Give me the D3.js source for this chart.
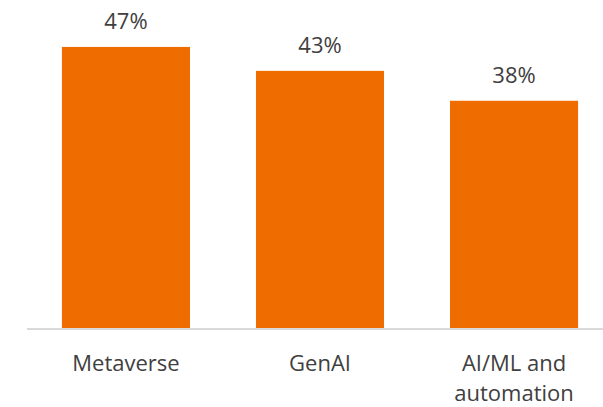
<!DOCTYPE html>
<html>
<head>
<meta charset="utf-8">
<script src="https://cdn.jsdelivr.net/npm/d3@7"></script>
<style>
  body { margin: 0; background: #fff; }
  text { font-family: "Open Sans", sans-serif; fill: #404040; }
</style>
</head>
<body>
<script>
// chart values
const categories = ["Metaverse", "GenAI", "AI/ML and automation"];
const values = [47, 43, 38];
const catLines = [["Metaverse"], ["GenAI"], ["AI/ML and", "automation"]];

function drawChart() {
  var width = 603, height = 407;
  var baseY = 328;
  var svg = d3.select("body").append("svg")
    .attr("width", width)
    .attr("height", height);

  var x = d3.scaleBand()
    .domain(categories)
    .range([27, 613])
    .paddingInner(0.34)
    .paddingOuter(0.18);

  var y = d3.scaleLinear()
    .domain([0, 50])
    .range([baseY, baseY - 299]);

  // bars
  svg.append("g")
    .selectAll("rect")
    .data(values)
    .enter().append("rect")
    .attr("x", (d, i) => x(categories[i]))
    .attr("y", d => y(d))
    .attr("width", x.bandwidth())
    .attr("height", d => y(0) - y(d))
    .attr("fill", "#ef6c00");

  // baseline
  svg.append("line")
    .attr("x1", 27).attr("x2", width)
    .attr("y1", baseY + 1).attr("y2", baseY + 1)
    .attr("stroke", "#d9d9d9")
    .attr("stroke-width", 2);

  // value labels
  svg.append("g")
    .selectAll("text")
    .data(values)
    .enter().append("text")
    .attr("x", (d, i) => x(categories[i]) + x.bandwidth() / 2)
    .attr("y", d => y(d) - 18)
    .attr("text-anchor", "middle")
    .style("font-size", "22px")
    .text(d => d + "%");

  // category labels
  var cat = svg.append("g")
    .selectAll("text")
    .data(categories)
    .enter().append("text")
    .attr("x", d => x(d) + x.bandwidth() / 2)
    .attr("y", 371)
    .attr("text-anchor", "middle")
    .style("font-size", "22px");
  cat.selectAll("tspan")
    .data((d, i) => catLines[i])
    .enter().append("tspan")
    .attr("x", function() { return d3.select(this.parentNode).attr("x"); })
    .attr("dy", (d, i) => i === 0 ? 0 : 30)
    .text(d => d);
}
drawChart()
</script>
</body>
</html>
